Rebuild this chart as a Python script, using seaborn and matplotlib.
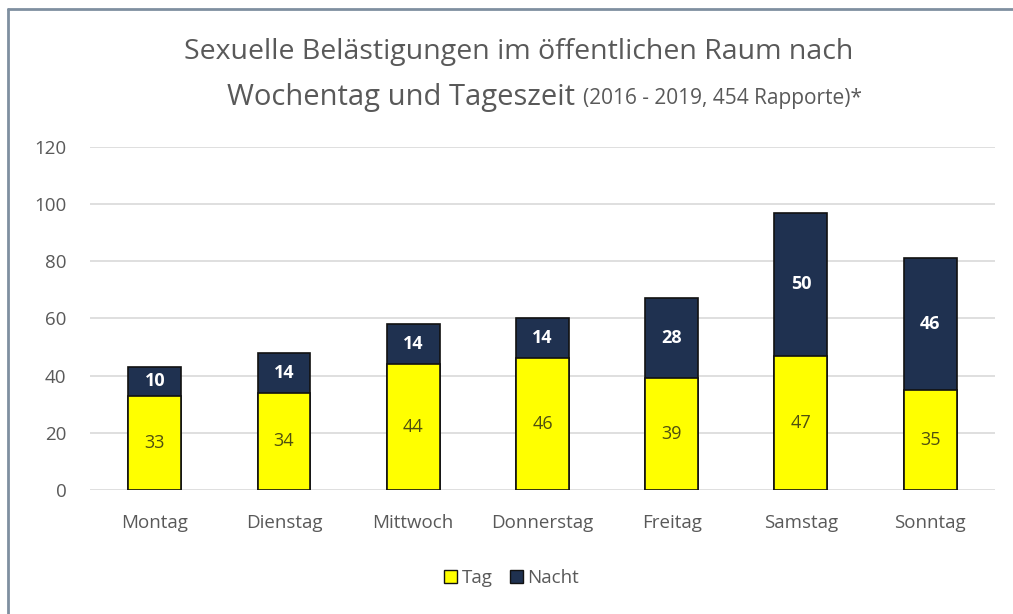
import seaborn as sns
import matplotlib.pyplot as plt
from matplotlib.lines import Line2D
from matplotlib.patches import Patch

# Data
tage = ['Montag', 'Dienstag', 'Mittwoch', 'Donnerstag', 'Freitag', 'Samstag', 'Sonntag']
tag = [33, 34, 44, 46, 39, 47, 35]
nacht = [10, 14, 14, 14, 28, 50, 46]
y_ticks = [0, 20, 40, 60, 80, 100, 120]

total = [a + b for a, b in zip(tag, nacht)]

gelb = '#FFFF00'
navy = '#1F3150'
grau = '#595959'

sns.set_theme(style='white')
plt.rcParams['font.family'] = ['Open Sans', 'DejaVu Sans']

fig = plt.figure(figsize=(10.13, 6.14), dpi=100)
ax = fig.add_axes([0.089, 0.202, 0.893, 0.559])

# stacked bars: total in navy first, then the Tag part in yellow on top of it
sns.barplot(x=tage, y=total, color=navy, saturation=1, width=0.41,
            edgecolor='#111111', linewidth=1.2, ax=ax, zorder=3)
sns.barplot(x=tage, y=tag, color=gelb, saturation=1, width=0.41,
            edgecolor='#111111', linewidth=1.2, ax=ax, zorder=4)

for i in range(len(tage)):
    ax.text(i, tag[i] / 2, str(tag[i]), ha='center', va='center',
            fontsize=13, color='#4F4F10', zorder=5)
    ax.text(i, tag[i] + nacht[i] / 2, str(nacht[i]), ha='center', va='center',
            fontsize=13, color='white', fontweight='bold', zorder=5)

ax.set_ylim(0, 120)
ax.set_xlim(-0.5, 6.5)
ax.set_yticks(y_ticks)
ax.yaxis.grid(True, color='#D9D9D9', linewidth=1.2, zorder=0)
ax.tick_params(axis='y', length=0, pad=17, labelsize=13.5, labelcolor=grau)
ax.tick_params(axis='x', length=0, pad=17, labelsize=13.5, labelcolor=grau)
for s in ax.spines.values():
    s.set_visible(False)
ax.set_xlabel('')
ax.set_ylabel('')

# title (two lines, second line with a smaller tail)
fig.text(0.512, 0.915, 'Sexuelle Belästigungen im öffentlichen Raum nach',
         ha='center', va='center', fontsize=20.5, color=grau)
fig.text(0.568, 0.842, 'Wochentag und Tageszeit', ha='right', va='center',
         fontsize=21, color=grau)
fig.text(0.576, 0.840, '(2016 - 2019, 454 Rapporte)*', ha='left', va='center',
         fontsize=15, color=grau)

# legend
handles = [Patch(facecolor=gelb, edgecolor='#111111', label='Tag'),
           Patch(facecolor=navy, edgecolor='#111111', label='Nacht')]
fig.legend(handles=handles, loc='center', bbox_to_anchor=(0.505, 0.059), ncol=2,
           frameon=False, fontsize=13.5, labelcolor=grau, handlelength=0.7,
           handleheight=0.7, handletextpad=0.25, columnspacing=0.9)

# frame of the original image (only top and left visible)
fig.add_artist(Line2D([0.008, 1.0], [0.985, 0.985], transform=fig.transFigure,
                      color='#7F8FA0', linewidth=2))
fig.add_artist(Line2D([0.008, 0.008], [0.0, 0.985], transform=fig.transFigure,
                      color='#7F8FA0', linewidth=2))

fig.savefig('out.png', dpi=100)
